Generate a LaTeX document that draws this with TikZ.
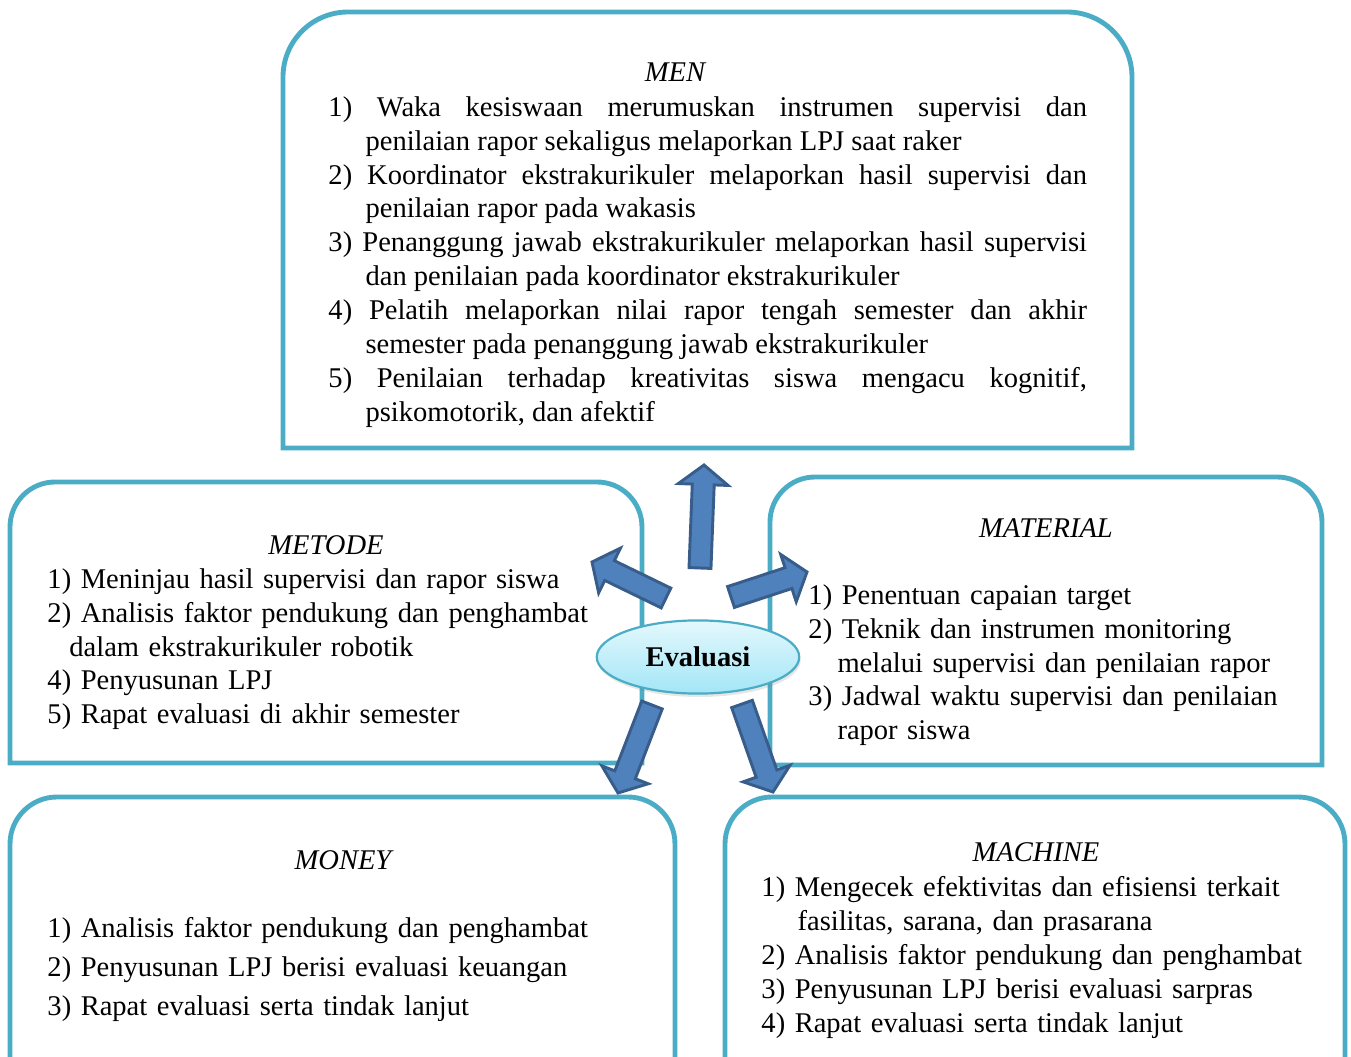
\documentclass[tikz,border=0pt]{standalone}
\usepackage{fontspec}
\setmainfont{Liberation Serif}
\usetikzlibrary{calc,shapes.geometric,shadows}

\definecolor{garis}{HTML}{4BACC6}
\definecolor{panahisi}{HTML}{4F81BD}
\definecolor{panahtepi}{HTML}{385D8A}
\definecolor{elipsatas}{HTML}{E4F8FD}
\definecolor{elipsbawah}{HTML}{A3E6F7}

% one numbered point with a hanging indent (ends with \par)
\newcommand{\butir}[1]{\noindent\hangindent=#1\hangafter=1\relax}
% block arrow from a tail coordinate to a tip coordinate
\newcommand{\panahblok}[2]{%
  \path ($(#2)!8pt!(#1)$) coordinate (hb);
  \draw[panah] ($(#1)!4.5pt!90:(#2)$) -- ($(hb)!4.5pt!90:(#2)$)
    -- ($(hb)!10.2pt!90:(#2)$) -- (#2) -- ($(hb)!10.2pt!-90:(#2)$)
    -- ($(hb)!4.5pt!-90:(#2)$) -- ($(#1)!4.5pt!-90:(#2)$) -- cycle;}

\begin{document}
\begin{tikzpicture}[
    x=0.41pt, y=0.41pt,
    font=\fontsize{11.7}{13.9}\selectfont,
    % --- frame with rounded top corners ---
    panel/.style={draw=garis, line width=2pt},
    % --- italic heading of a frame ---
    judul/.style={font=\fontsize{11.7}{13.9}\selectfont\itshape, anchor=base,
                  inner sep=0pt},
    % --- list of points ---
    isi/.style={anchor=north west, inner sep=0pt, align=left},
    % --- centre ellipse ---
    pusat/.style={ellipse, draw=garis, line width=0.9pt, top color=elipsatas,
                  bottom color=elipsbawah, minimum width=83pt, minimum height=30pt,
                  font=\fontsize{11.7}{13.9}\selectfont\bfseries,
                  drop shadow={opacity=0.2, shadow xshift=0.6pt, shadow yshift=-1.4pt}},
    panah/.style={fill=panahisi, draw=panahtepi, line width=1.2pt, line join=miter},
  ]
  \useasboundingbox (0,0) rectangle (1351,1056);
  \clip (0,0) rectangle (1351,1056);

  % ---- MEN ---------------------------------------------------------------
  \draw[panel] (283,608) -- (283,979) arc[start angle=180, end angle=90, radius=65]
    -- (1067,1044) arc[start angle=90, end angle=0, radius=65] -- (1132,608) -- cycle;
  \node[judul] (men) at (675,974) {MEN};
  \node[isi, align=justify, text width=311pt] (menisi) at (328,960)
    {\butir{15.2pt}1) Waka kesiswaan merumuskan instrumen supervisi dan\linebreak
       penilaian rapor sekaligus melaporkan LPJ saat raker\par
     \butir{15.2pt}2) Koordinator ekstrakurikuler melaporkan hasil supervisi dan\linebreak
       penilaian rapor pada wakasis\par
     \butir{15.2pt}3) Penanggung jawab ekstrakurikuler melaporkan hasil supervisi\linebreak
       dan penilaian pada koordinator ekstrakurikuler\par
     \butir{15.2pt}4) Pelatih melaporkan nilai rapor tengah semester dan akhir\linebreak
       semester pada penanggung jawab ekstrakurikuler\par
     \butir{15.2pt}5) Penilaian terhadap kreativitas siswa mengacu kognitif,\linebreak
       psikomotorik, dan afektif\par};

  % ---- METODE ------------------------------------------------------------
  \draw[panel] (10,293) -- (10,529) arc[start angle=180, end angle=90, radius=45]
    -- (597,574) arc[start angle=90, end angle=0, radius=45] -- (642,293) -- cycle;
  \node[judul] (metode) at (326,501) {METODE};
  \node[isi, text width=235pt] (metodeisi) at (47,488)
    {\butir{9pt}1) Meninjau hasil supervisi dan rapor siswa\par
     \butir{9pt}2) Analisis faktor pendukung dan penghambat\linebreak
       dalam ekstrakurikuler robotik\par
     \butir{9pt}4) Penyusunan LPJ\par
     \butir{9pt}5) Rapat evaluasi di akhir semester\par};

  % ---- MATERIAL ----------------------------------------------------------
  \draw[panel] (770,291) -- (770,534) arc[start angle=180, end angle=90, radius=45]
    -- (1277,579) arc[start angle=90, end angle=0, radius=45] -- (1322,291) -- cycle;
  \node[judul] (material) at (1046,518) {MATERIAL};
  \node[isi, text width=205pt] (materialisi) at (808,472)
    {\butir{11.9pt}1) Penentuan capaian target\par
     \butir{11.9pt}2) Teknik dan instrumen monitoring\linebreak
       melalui supervisi dan penilaian rapor\par
     \butir{11.9pt}3) Jadwal waktu supervisi dan penilaian\linebreak
       rapor siswa\par};

  % ---- MONEY -------------------------------------------------------------
  \draw[panel] (10,-30) -- (10,212) arc[start angle=180, end angle=90, radius=47]
    -- (628,259) arc[start angle=90, end angle=0, radius=47] -- (675,-30);
  \node[judul] (money) at (343,186) {MONEY};
  \node[isi, text width=250pt, font=\fontsize{11.7}{16}\selectfont] (moneyisi) at (47,139)
    {1) Analisis faktor pendukung dan penghambat\\
     2) Penyusunan LPJ berisi evaluasi keuangan\\
     3) Rapat evaluasi serta tindak lanjut};

  % ---- MACHINE -----------------------------------------------------------
  \draw[panel] (725,-30) -- (725,212) arc[start angle=180, end angle=90, radius=47]
    -- (1298,259) arc[start angle=90, end angle=0, radius=47] -- (1345,-30);
  \node[judul] (machine) at (1036,194) {MACHINE};
  \node[isi, text width=230pt] (machineisi) at (761,180)
    {\butir{14.8pt}1) Mengecek efektivitas dan efisiensi terkait\linebreak
       fasilitas, sarana, dan prasarana\par
     \butir{14.8pt}2) Analisis faktor pendukung dan penghambat\par
     \butir{14.8pt}3) Penyusunan LPJ berisi evaluasi sarpras\par
     \butir{14.8pt}4) Rapat evaluasi serta tindak lanjut\par};

  % ---- centre and its five arrows ------------------------------------------
  \node[pusat] (evaluasi) at (698,399) {Evaluasi};

  \coordinate (ekor1) at (700,488);  \coordinate (ujung1) at (704,591);
  \coordinate (ekor2) at (666,458);  \coordinate (ujung2) at (592,494);
  \coordinate (ekor3) at (731,459);  \coordinate (ujung3) at (807,484);
  \coordinate (ekor4) at (652,351);  \coordinate (ujung4) at (618,263);
  \coordinate (ekor5) at (742,352);  \coordinate (ujung5) at (773,264);
  \panahblok{ekor1}{ujung1}
  \panahblok{ekor2}{ujung2}
  \panahblok{ekor3}{ujung3}
  \panahblok{ekor4}{ujung4}
  \panahblok{ekor5}{ujung5}

\end{tikzpicture}
\end{document}
